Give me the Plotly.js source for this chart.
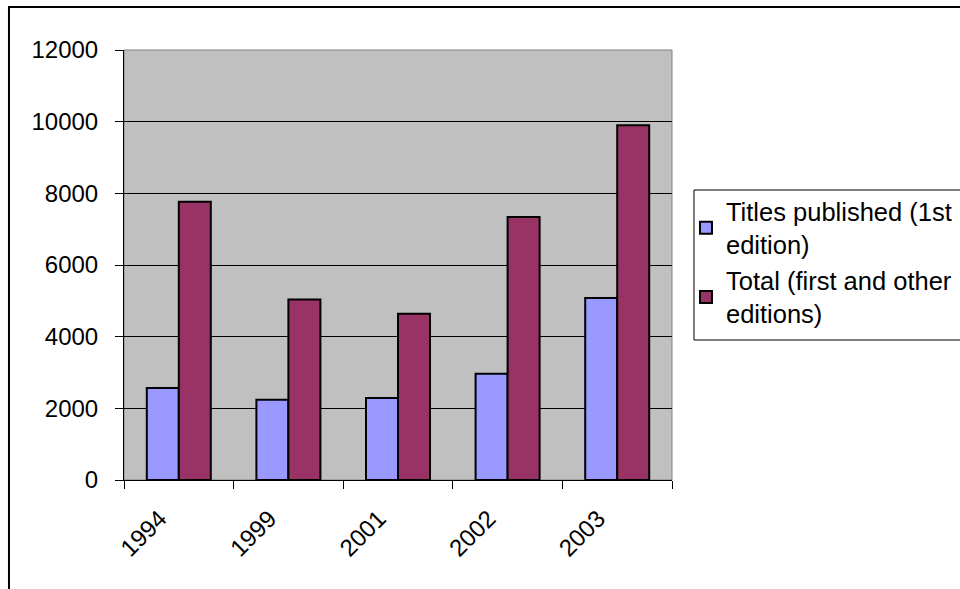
<!DOCTYPE html>
<html>
<head>
<meta charset="utf-8">
<script src="https://cdn.plot.ly/plotly-3.0.1.min.js"></script>
<style>html,body{margin:0;padding:0;background:#fff;}#chart{width:960px;height:589px;}</style>
</head>
<body>
<div id="chart"></div>
<script>
const years = ["1994", "1999", "2001", "2002", "2003"];
const titlesFirst = [2565, 2238, 2285, 2965, 5082];
const totalAll = [7768, 5035, 4643, 7337, 9902];
const seriesNames = ["Titles published (1st<br>edition)", "Total (first and other<br>editions)"];
const yTicks = [0, 2000, 4000, 6000, 8000, 10000, 12000];
const yTickText = ["0", "2000", "4000", "6000", "8000", "10000", "12000"];

const FONT = "Liberation Sans, Arial, sans-serif";
const traces = [
  {type: "bar", x: years, y: titlesFirst, name: seriesNames[0],
   marker: {color: "#9999FF", line: {color: "#000", width: 2}}},
  {type: "bar", x: years, y: totalAll, name: seriesNames[1],
   marker: {color: "#993366", line: {color: "#000", width: 2}}}
];
const layout = {
  width: 960, height: 589,
  margin: {l: 124, r: 288, t: 50, b: 109, autoexpand: false},
  paper_bgcolor: "#fff", plot_bgcolor: "#C0C0C0",
  font: {family: FONT, size: 24, color: "#000"},
  barmode: "group", bargap: 0.416, bargroupgap: 0,
  showlegend: true,
  legend: {x: 1.0255, y: 0.679, xanchor: "left", yanchor: "top",
           bgcolor: "rgba(0,0,0,0)", borderwidth: 0,
           font: {family: FONT, size: 25.5, color: "#000"}, tracegroupgap: 4},
  xaxis: {type: "category", tickson: "boundaries", ticks: "outside", ticklen: 8,
          tickcolor: "#000", tickwidth: 1, tickangle: -45, showgrid: false,
          showline: true, linecolor: "#000", linewidth: 1, ticklabelstandoff: 14,
          ticklabelshift: -19,
          tickfont: {family: FONT, size: 24, color: "#000"}},
  yaxis: {range: [0, 12000], tickvals: yTicks, ticktext: yTickText, ticks: "outside", ticklen: 8,
          tickcolor: "#000", tickwidth: 1, showline: true, linecolor: "#000", linewidth: 1,
          showgrid: true, gridcolor: "#000", gridwidth: 1, zeroline: false,
          ticklabelstandoff: 12,
          tickfont: {family: FONT, size: 24, color: "#000"}},
  shapes: [
    {type: "rect", xref: "paper", yref: "paper", x0: 0, x1: 1, y0: 0, y1: 1,
     line: {color: "#808080", width: 1}, fillcolor: "rgba(0,0,0,0)", layer: "below"},
    {type: "rect", xref: "paper", yref: "paper", x0: -0.2099, x1: 1.8, y0: -0.4, y1: 1.1,
     line: {color: "#000", width: 2}, fillcolor: "rgba(0,0,0,0)"},
    {type: "rect", xref: "paper", yref: "paper", x0: 1.0401, x1: 1.8, y0: 0.3256, y1: 0.6744,
     line: {color: "#000", width: 1}, fillcolor: "#fff"}
  ]
};
Plotly.newPlot("chart", traces, layout, {displayModeBar: false, staticPlot: true});
</script>
</body>
</html>
